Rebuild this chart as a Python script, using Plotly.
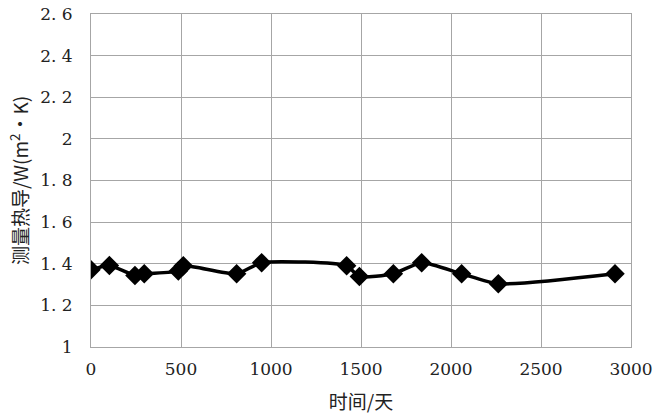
import plotly.graph_objects as go

days = [0, 102, 244, 296, 485, 513, 809, 948, 1420, 1491, 1680, 1837, 2059, 2263, 2911]
conductance = [1.371, 1.392, 1.344, 1.352, 1.365, 1.39, 1.352, 1.405, 1.39, 1.339,
               1.352, 1.405, 1.352, 1.304, 1.352]

x_ticks = [0, 500, 1000, 1500, 2000, 2500, 3000]
y_ticks = [1, 1.2, 1.4, 1.6, 1.8, 2, 2.2, 2.4, 2.6]
y_labels = ["1", "1. 2", "1. 4", "1. 6", "1. 8", "2", "2. 2", "2. 4", "2. 6"]

GRID = "#a6a6a6"
TICK_FONT = dict(family="DejaVu Serif, Liberation Serif, serif", size=17, color="#222")
CJK_FONT = dict(family="Noto Sans CJK SC", size=19, color="#222")

fig = go.Figure()
fig.add_trace(
    go.Scatter(
        x=days, y=conductance, mode="lines+markers",
        line=dict(color="black", width=3.5, shape="spline", smoothing=0.6),
        marker=dict(symbol="diamond", size=15, color="black"),
        showlegend=False,
    )
)

fig.update_xaxes(
    range=[0, 3000], tickvals=x_ticks, ticktext=[str(t) for t in x_ticks],
    showgrid=True, gridcolor=GRID, gridwidth=1,
    showline=True, linecolor=GRID, linewidth=1, mirror=True,
    zeroline=False, ticks="", tickfont=TICK_FONT, automargin=False,
    ticklabelstandoff=7,
    title=dict(text="时间/天", font=CJK_FONT, standoff=17),
)
fig.update_yaxes(
    range=[1, 2.6], tickvals=y_ticks, ticktext=y_labels,
    showgrid=True, gridcolor=GRID, gridwidth=1,
    showline=True, linecolor=GRID, linewidth=1, mirror=True,
    zeroline=False, ticks="", tickfont=TICK_FONT, automargin=False,
    ticklabelstandoff=14,
    title=dict(text="测量热导/W(m<sup>2</sup>•K)", font=CJK_FONT, standoff=6),
)

fig.update_layout(
    width=660, height=418,
    margin=dict(l=91, r=29, t=14, b=71),
    plot_bgcolor="white", paper_bgcolor="white",
)

# drop the default 8px page margin so the figure fills the window exactly
fig.write_html(
    "out.html",
    config={"displayModeBar": False},
    post_script="document.body.style.margin='0';",
)
